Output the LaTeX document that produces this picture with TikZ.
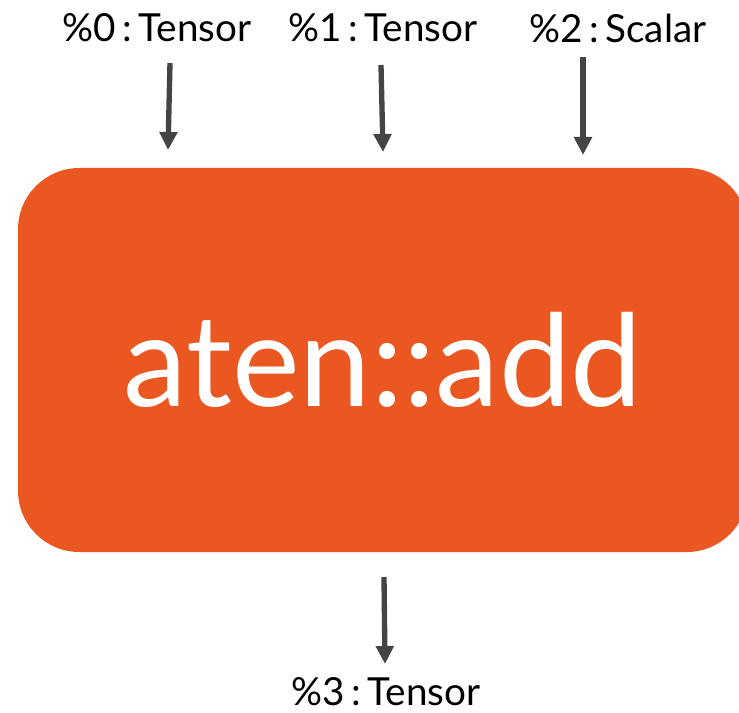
\documentclass[tikz,border=0pt]{standalone}
\usepackage{fontspec}
\setmainfont{Lato}
\usetikzlibrary{arrows.meta,positioning}
\definecolor{atenorange}{RGB}{234,87,32}
\definecolor{flowgray}{RGB}{68,68,68}

\begin{document}
\begin{tikzpicture}[x=0.75pt,y=-0.75pt,
    port/.style={inner sep=0pt,font=\fontsize{29}{32}\selectfont},
    flow/.style={draw=flowgray,line width=4pt,-{Triangle[length=13.5pt,width=13pt]}}]
        \clip (0,0) rectangle (739,713);
        \node (box) at (383,360) [fill=atenorange,rounded corners=46pt,minimum width=547.5pt,minimum height=288pt,inner sep=0pt,text=white,font=\fontsize{96}{100}\selectfont] {aten::add};
        \node (in0) at (157,28) [port] {\%0\,:\,Tensor};
        \node (in1) at (383,28) [port] {\%1\,:\,Tensor};
        \node (in2) at (618,28) [port] {\%2\,:\,Scalar};
        \node (out0) at (386,692) [port] {\%3\,:\,Tensor};
        % arrow ends
        \coordinate (a0) at (170,63);
        \coordinate (e0) at (168,150);
        \coordinate (a1) at (381,65);
        \coordinate (e1) at (383,152);
        \coordinate (a2) at (583,57);
        \coordinate (e2) at (583,155);
        \coordinate (b0) at (384,577);
        \coordinate (f0) at (385,664);
        \draw [flow] (a0) -- (e0);
        \draw [flow] (a1) -- (e1);
        \draw [flow] (a2) -- (e2);
        \draw [flow] (b0) -- (f0);
      \end{tikzpicture}
\end{document}
